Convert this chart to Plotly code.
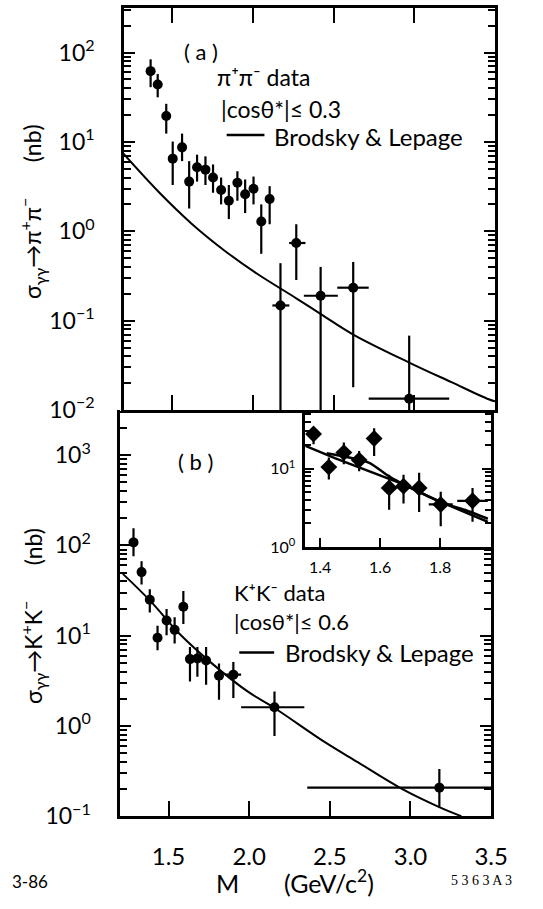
import numpy as np
import plotly.graph_objects as go

# ---------------- data: panel (a) pi+ pi- ----------------
m_pipi = [1.365, 1.409, 1.462, 1.502, 1.560, 1.604, 1.653, 1.705, 1.752, 1.802, 1.850,
          1.903, 1.951, 2.003, 2.051, 2.103, 2.170, 2.268, 2.419, 2.621, 2.968]
sig_pipi = [62, 44, 19.5, 6.5, 8.7, 3.6, 5.2, 4.9, 4.0, 2.9, 2.2,
            3.5, 2.6, 3.0, 1.29, 2.3, 0.148, 0.74, 0.19, 0.234, 0.0134]
sig_pipi_hi = [84, 57.5, 26.7, 10.1, 12.4, 6.1, 7.2, 6.9, 5.6, 4.0, 3.3,
               4.7, 3.8, 4.1, 2.0, 3.2, 0.44, 1.2, 0.40, 0.454, 0.068]
sig_pipi_lo = [41, 31.6, 12.4, 3.3, 6.1, 1.8, 3.6, 3.3, 2.7, 2.0, 1.37,
               2.2, 1.6, 2.0, 0.56, 1.2, 0.001, 0.285, 0.001, 0.018, 0.001]
m_pipi_lo = [1.365, 1.409, 1.462, 1.502, 1.560, 1.604, 1.653, 1.705, 1.752, 1.802, 1.850,
             1.903, 1.951, 2.003, 2.051, 2.103, 2.120, 2.224, 2.315, 2.522, 2.717]
m_pipi_hi = [1.365, 1.409, 1.462, 1.502, 1.560, 1.604, 1.653, 1.705, 1.752, 1.802, 1.850,
             1.903, 1.951, 2.003, 2.051, 2.103, 2.225, 2.325, 2.526, 2.717, 3.216]

curve_a_m = [1.194, 1.420, 1.621, 1.822, 2.023, 2.268, 2.425, 2.621, 2.968, 3.230, 3.461, 3.5]
curve_a_s = [7.48, 2.70, 1.21, 0.611, 0.337, 0.178, 0.117, 0.070, 0.034, 0.0205, 0.0132, 0.0125]

# ---------------- data: panel (b) K+ K- ----------------
m_kk = [1.283, 1.333, 1.384, 1.432, 1.488, 1.538, 1.592, 1.633, 1.679, 1.733, 1.813,
        1.902, 2.157, 3.179]
sig_kk = [108, 50.6, 25, 9.5, 14.7, 11.6, 20.9, 5.5, 5.6, 5.3, 3.6, 3.7, 1.61, 0.207]
sig_kk_hi = [155, 66.7, 32.7, 12.9, 19.7, 16.0, 31.3, 7.5, 7.5, 7.5, 4.9, 5.1, 2.41, 0.334]
sig_kk_lo = [76, 37, 18.1, 6.9, 10.1, 8.2, 13.5, 3.1, 3.5, 2.85, 1.95, 2.04, 0.774, 0.127]
m_kk_lo = [1.283, 1.333, 1.384, 1.432, 1.488, 1.538, 1.592, 1.633, 1.679, 1.733, 1.813,
           1.849, 1.950, 2.360]
m_kk_hi = [1.283, 1.333, 1.384, 1.432, 1.488, 1.538, 1.592, 1.633, 1.679, 1.733, 1.813,
           1.950, 2.342, 3.500]

curve_b_m = [1.217, 1.387, 1.568, 1.769, 1.990, 2.157, 2.472, 2.673, 2.944, 3.175, 3.315]
curve_b_s = [48.4, 24.3, 10.5, 4.93, 2.41, 1.58, 0.656, 0.396, 0.202, 0.127, 0.100]

# ---------------- data: inset (K+ K-, 1.35-1.97 GeV) ----------------
m_in = [1.378, 1.429, 1.479, 1.530, 1.580, 1.630, 1.678, 1.730, 1.802, 1.908]
sig_in = [27.8, 10.5, 16.1, 12.9, 24.4, 5.7, 6.0, 5.7, 3.5, 3.9]
sig_in_hi = [33.9, 13.9, 21.7, 16.9, 32.9, 8.4, 8.4, 8.9, 5.1, 5.7]
sig_in_lo = [20.6, 7.3, 11.4, 9.3, 14.6, 3.0, 3.6, 2.8, 1.85, 2.1]
m_in_lo = [1.378, 1.429, 1.479, 1.530, 1.580, 1.630, 1.678, 1.730, 1.762, 1.857]
m_in_hi = [1.378, 1.429, 1.479, 1.530, 1.580, 1.630, 1.678, 1.730, 1.842, 1.959]

inset_a_m = [1.351, 1.449, 1.665, 1.800, 1.959]
inset_a_s = [19.6, 13.7, 6.6, 3.8, 2.1]
inset_b_m = [1.422, 1.562, 1.632, 1.719, 1.805, 1.881, 1.959]
inset_b_s = [15.8, 12.0, 7.9, 5.3, 3.7, 3.0, 2.3]

xticks_main = [1.5, 2.0, 2.5, 3.0, 3.5]
xticks_main_txt = ["1.5", "2.0", "2.5", "3.0", "3.5"]
xticks_inset = [1.4, 1.6, 1.8]
xticks_inset_txt = ["1.4", "1.6", "1.8"]

# ---------------- layout geometry ----------------
W, H = 543, 909
def fx(p): return p / W
def fy(p): return 1 - p / H

X_DOM_TOP = [fx(128), fx(511)]
X_DOM_BOT = [fx(124), fx(507)]
TOP_DOM = [fy(416), fy(8)]
BOT_DOM = [fy(828), fy(416)]
IN_XDOM = [fx(315), fx(507)]
IN_YDOM = [fy(555), fy(416)]

FONT = "Lato, DejaVu Sans, sans-serif"

def dec_labels(lo, hi):
    vals = [10.0 ** k for k in range(lo, hi + 1)]
    txt = ["10<sup>%d</sup>" % k if k >= 0 else "10<sup>\u2212%d</sup>" % (-k) for k in range(lo, hi + 1)]
    return vals, txt

fig = go.Figure()

def errs(y, hi, lo):
    y = np.array(y, float)
    return np.array(hi, float) - y, y - np.array(lo, float)

ebar = dict(type="data", symmetric=False, color="black", thickness=2.2, width=0)

# panel (a)
eh, el = errs(sig_pipi, sig_pipi_hi, sig_pipi_lo)
xh, xl = errs(m_pipi, m_pipi_hi, m_pipi_lo)
fig.add_trace(go.Scatter(
    x=m_pipi, y=sig_pipi, mode="markers", xaxis="x", yaxis="y",
    marker=dict(symbol="circle", size=10, color="black"),
    error_y=dict(array=eh, arrayminus=el, **ebar),
    error_x=dict(array=xh, arrayminus=xl, **ebar),
    showlegend=False))
fig.add_trace(go.Scatter(
    x=curve_a_m, y=curve_a_s, mode="lines", xaxis="x", yaxis="y",
    line=dict(color="black", width=2, shape="spline"), showlegend=False))

# panel (b)
eh, el = errs(sig_kk, sig_kk_hi, sig_kk_lo)
xh, xl = errs(m_kk, m_kk_hi, m_kk_lo)
fig.add_trace(go.Scatter(
    x=m_kk, y=sig_kk, mode="markers", xaxis="x2", yaxis="y2",
    marker=dict(symbol="circle", size=10, color="black"),
    error_y=dict(array=eh, arrayminus=el, **ebar),
    error_x=dict(array=xh, arrayminus=xl, **ebar),
    showlegend=False))
fig.add_trace(go.Scatter(
    x=curve_b_m, y=curve_b_s, mode="lines", xaxis="x2", yaxis="y2",
    line=dict(color="black", width=2, shape="spline"), showlegend=False))

# inset
eh, el = errs(sig_in, sig_in_hi, sig_in_lo)
xh, xl = errs(m_in, m_in_hi, m_in_lo)
fig.add_trace(go.Scatter(
    x=inset_a_m, y=inset_a_s, mode="lines", xaxis="x3", yaxis="y3",
    line=dict(color="black", width=2.5), showlegend=False))
fig.add_trace(go.Scatter(
    x=inset_b_m, y=inset_b_s, mode="lines", xaxis="x3", yaxis="y3",
    line=dict(color="black", width=2.5, shape="spline", smoothing=0.6), showlegend=False))
fig.add_trace(go.Scatter(
    x=m_in, y=sig_in, mode="markers", xaxis="x3", yaxis="y3",
    marker=dict(symbol="diamond", size=13, color="black"),
    error_y=dict(array=eh, arrayminus=el, **ebar),
    error_x=dict(array=xh, arrayminus=xl, **ebar),
    showlegend=False))

# invisible anchor trace for right-side ticks of panel (b) below the inset
fig.add_trace(go.Scatter(x=[2.0], y=[1.0], mode="markers", xaxis="x2", yaxis="y4",
                         marker=dict(opacity=0), hoverinfo="skip", showlegend=False))

line_kw = dict(showline=True, linecolor="black", linewidth=2.5, showgrid=False, zeroline=False)
minor_log = dict(ticks="inside", ticklen=7, tickwidth=1.5, tickcolor="black", dtick="D1", showgrid=False)

va, ta = dec_labels(-2, 2)
vb, tb = dec_labels(-1, 3)

b_lo, b_hi = -1.0, 3.5
rng4_hi = b_lo + (IN_YDOM[0] - BOT_DOM[0]) / (BOT_DOM[1] - BOT_DOM[0]) * (b_hi - b_lo)

fig.update_layout(
    width=W, height=H, margin=dict(l=0, r=0, t=0, b=0),
    paper_bgcolor="white", plot_bgcolor="rgba(0,0,0,0)",
    font=dict(family=FONT, color="black", size=20),
    xaxis=dict(domain=X_DOM_TOP, anchor="y", range=[1.2, 3.5], tickvals=xticks_main[:-1],
               ticks="inside", ticklen=15, tickwidth=2, tickcolor="black",
               showticklabels=False, mirror="ticks", **line_kw),
    yaxis=dict(domain=TOP_DOM, anchor="x", type="log", range=[-2, 2.5],
               tickvals=va, ticktext=ta, ticks="inside", ticklen=11, tickwidth=2,
               tickcolor="black", mirror="ticks", minor=minor_log,
               tickfont=dict(size=23), ticklabelstandoff=22, **line_kw),
    xaxis2=dict(domain=X_DOM_BOT, anchor="y2", range=[1.2, 3.5], tickvals=xticks_main,
                ticktext=xticks_main_txt, ticks="inside", ticklen=15, tickwidth=2,
                tickcolor="black", mirror=False, tickfont=dict(size=24),
                ticklabelstandoff=17, **line_kw),
    yaxis2=dict(domain=BOT_DOM, anchor="x2", type="log", range=[b_lo, b_hi],
                tickvals=vb, ticktext=tb, ticks="inside", ticklen=11, tickwidth=2,
                tickcolor="black", mirror=True, minor=minor_log,
                tickfont=dict(size=23), ticklabelstandoff=22, **line_kw),
    xaxis3=dict(domain=IN_XDOM, anchor="y3", range=[1.35, 1.97], tickvals=xticks_inset,
                ticktext=xticks_inset_txt, ticks="inside", ticklen=9, tickwidth=2,
                tickcolor="black", tickfont=dict(size=16), ticklabelstandoff=4,
                **line_kw),
    yaxis3=dict(domain=IN_YDOM, anchor="x3", type="log", range=[0, 1.75],
                tickvals=[1, 10], ticktext=["10<sup>0</sup>", "10<sup>1</sup>"],
                ticks="inside", ticklen=9, tickwidth=2, tickcolor="black",
                mirror="ticks", minor=dict(ticks="inside", ticklen=6, tickwidth=1.5,
                                           tickcolor="black", dtick="D1"),
                tickfont=dict(size=16), ticklabelstandoff=4, **line_kw),
    yaxis4=dict(domain=[BOT_DOM[0], IN_YDOM[0]], anchor="free", position=X_DOM_BOT[1],
                side="right", type="log", range=[b_lo, rng4_hi], tickvals=vb,
                ticks="inside", ticklen=11, tickwidth=2, tickcolor="black",
                showticklabels=False, showline=False, showgrid=False, zeroline=False,
                minor=minor_log),
)

ann = []
def text(x, y, s, size=20, xanchor="left", family=FONT, angle=0):
    ann.append(dict(x=fx(x), y=fy(y), xref="paper", yref="paper", text=s, showarrow=False,
                    xanchor=xanchor, yanchor="middle", textangle=angle,
                    font=dict(size=size, family=family, color="black")))

# panel (a) labels
text(208, 52, "( a )", 22, "center")
text(222, 78, "π⁺π⁻ data", 23)
text(226, 111, "|cosθ*|≤ 0.3", 23)
text(281, 138, "Brodsky &amp; Lepage", 24)
# panel (b) labels
text(202, 468, "( b )", 22, "center")
text(239, 601, "K⁺K⁻ data", 22)
text(239, 631, "|cosθ*|≤ 0.6", 22)
text(292, 662, "Brodsky &amp; Lepage", 24)
# y titles
text(33, 214, "σ<sub>γγ</sub>→π<sup>+</sup>π<sup>−</sup>      (nb)", 23, "center", angle=-90)
text(33, 625, "σ<sub>γγ</sub>→K<sup>+</sup>K<sup>−</sup>      (nb)", 23, "center", angle=-90)
# x title and footers
text(305, 894, "M       (GeV/c<sup>2</sup>)", 25, "center")
text(10, 894, "3-86", 17)
text(531, 893, "5 3 6 3 A 3", 14, "right", family="Liberation Serif, serif")
fig.update_layout(annotations=ann)

# legend sample lines
fig.add_shape(type="line", xref="paper", yref="paper", x0=fx(234), x1=fx(273), y0=fy(137), y1=fy(137),
              line=dict(color="black", width=2.5))
fig.add_shape(type="line", xref="paper", yref="paper", x0=fx(247), x1=fx(283), y0=fy(662), y1=fy(662),
              line=dict(color="black", width=2.5))

fig.write_html("out.html")
